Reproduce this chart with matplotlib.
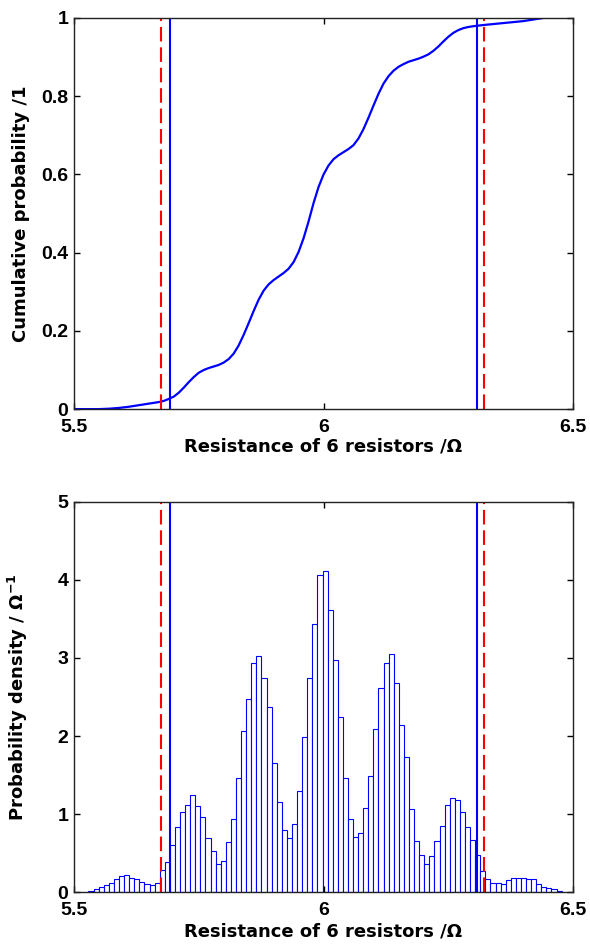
import numpy as np
import matplotlib
matplotlib.use('Agg')
import matplotlib.pyplot as plt

plt.rcParams['font.family'] = ['Liberation Sans', 'DejaVu Sans']
plt.rcParams['font.weight'] = 'bold'
plt.rcParams['mathtext.fontset'] = 'dejavusans'

# cumulative curve
cdf_x = [5.50, 5.55, 5.57, 5.59, 5.61, 5.63, 5.65, 5.67, 5.68, 5.69,
         5.70, 5.71, 5.72, 5.73, 5.74, 5.75, 5.76, 5.77, 5.78, 5.79,
         5.80, 5.81, 5.82, 5.83, 5.84, 5.85, 5.86, 5.87, 5.88, 5.89,
         5.90, 5.91, 5.92, 5.93, 5.94, 5.95, 5.96, 5.97, 5.98, 5.99,
         6.00, 6.01, 6.02, 6.03, 6.04, 6.05, 6.06, 6.07, 6.08, 6.09,
         6.10, 6.11, 6.12, 6.13, 6.14, 6.15, 6.16, 6.17, 6.18, 6.19,
         6.20, 6.21, 6.22, 6.23, 6.24, 6.25, 6.26, 6.27, 6.28, 6.29,
         6.30, 6.32, 6.36, 6.40, 6.44]
cdf_y = [0.000, 0.000, 0.001, 0.003, 0.006, 0.010, 0.014, 0.018, 0.021, 0.026,
         0.032, 0.042, 0.055, 0.069, 0.082, 0.093, 0.100, 0.105, 0.109, 0.113,
         0.119, 0.128, 0.142, 0.163, 0.190, 0.220, 0.251, 0.280, 0.303, 0.319,
         0.330, 0.339, 0.348, 0.359, 0.376, 0.402, 0.437, 0.480, 0.527, 0.568,
         0.600, 0.623, 0.639, 0.649, 0.657, 0.665, 0.675, 0.692, 0.716, 0.745,
         0.776, 0.806, 0.832, 0.851, 0.865, 0.875, 0.882, 0.888, 0.892, 0.896,
         0.901, 0.907, 0.916, 0.927, 0.940, 0.952, 0.962, 0.969, 0.974, 0.977,
         0.979, 0.982, 0.987, 0.992, 1.000]

# histogram (93 bins between 5.529 and 6.477)
hist_lo, hist_hi = 5.529, 6.477
density = [0.02, 0.04, 0.065, 0.09, 0.12, 0.17, 0.205, 0.22, 0.18, 0.17,
           0.13, 0.10, 0.09, 0.12, 0.28, 0.385, 0.60, 0.83, 1.03, 1.12,
           1.24, 1.10, 0.96, 0.69, 0.52, 0.36, 0.40, 0.64, 0.94, 1.46,
           2.06, 2.47, 2.94, 3.02, 2.74, 2.37, 1.65, 1.16, 0.80, 0.69,
           0.87, 1.29, 1.99, 2.74, 3.43, 4.06, 4.11, 3.62, 2.97, 2.24,
           1.46, 0.94, 0.71, 0.76, 1.08, 1.49, 2.09, 2.61, 2.93, 3.05,
           2.68, 2.14, 1.73, 1.06, 0.66, 0.47, 0.36, 0.46, 0.65, 0.85,
           1.11, 1.21, 1.18, 1.02, 0.83, 0.67, 0.47, 0.27, 0.17, 0.12,
           0.12, 0.10, 0.15, 0.18, 0.18, 0.18, 0.17, 0.17, 0.10, 0.07,
           0.05, 0.035, 0.02]

# interval limits
blue_lims = [5.692, 6.307]
red_lims = [5.674, 6.322]

xticks = [5.5, 6, 6.5]
xticklabels = ['5.5', '6', '6.5']
top_yticks = [0, 0.2, 0.4, 0.6, 0.8, 1]
top_yticklabels = ['0', '0.2', '0.4', '0.6', '0.8', '1']
bot_yticks = [0, 1, 2, 3, 4, 5]
bot_yticklabels = ['0', '1', '2', '3', '4', '5']

label_font = dict(family='DejaVu Sans', fontsize=13, fontweight='bold')
dash = (0, (7, 2.8))

fig = plt.figure(figsize=(5.9, 9.47), dpi=100)
ax1 = fig.add_axes([0.1254, 0.568, 0.846, 0.413])
ax2 = fig.add_axes([0.1254, 0.058, 0.846, 0.412])


def style(ax):
    ax.tick_params(direction='in', length=4, width=1, top=True, right=True,
                   labelsize=14)
    ax.tick_params(axis='x', pad=7)
    ax.tick_params(axis='y', pad=4)
    for s in ax.spines.values():
        s.set_linewidth(1)
        s.set_color('#222222')
    for lab in ax.get_xticklabels() + ax.get_yticklabels():
        lab.set_fontweight('bold')


ax1.plot(cdf_x, cdf_y, color='#0000ff', lw=1.6)
for v in red_lims:
    ax1.axvline(v, color='#ff0000', lw=1.5, linestyle=dash)
for v in blue_lims:
    ax1.axvline(v, color='#0000ff', lw=1.5)
ax1.set_xlim(5.5, 6.5)
ax1.set_ylim(0, 1)
ax1.set_xticks(xticks)
ax1.set_xticklabels(xticklabels)
ax1.set_yticks(top_yticks)
ax1.set_yticklabels(top_yticklabels)
ax1.set_xlabel('Resistance of 6 resistors /Ω', **label_font)
ax1.set_ylabel('Cumulative probability /1', **label_font)
ax1.xaxis.set_label_coords(0.5, -0.072)
ax1.yaxis.set_label_coords(-0.088, 0.5)
style(ax1)

edges = np.linspace(hist_lo, hist_hi, len(density) + 1)
ax2.bar(edges[:-1], density, width=np.diff(edges), align='edge',
        color='white', edgecolor='#0000ff', linewidth=0.8)
for v in red_lims:
    ax2.axvline(v, color='#ff0000', lw=1.5, linestyle=dash)
for v in blue_lims:
    ax2.axvline(v, color='#0000ff', lw=1.5)
ax2.set_xlim(5.5, 6.5)
ax2.set_ylim(0, 5)
ax2.set_xticks(xticks)
ax2.set_xticklabels(xticklabels)
ax2.set_yticks(bot_yticks)
ax2.set_yticklabels(bot_yticklabels)
ax2.set_xlabel('Resistance of 6 resistors /Ω', **label_font)
ax2.set_ylabel(r'Probability density / Ω$^{\mathbf{-1}}$', **label_font)
ax2.xaxis.set_label_coords(0.5, -0.079)
ax2.yaxis.set_label_coords(-0.088, 0.5)
style(ax2)

fig.savefig('out.png', dpi=100)
